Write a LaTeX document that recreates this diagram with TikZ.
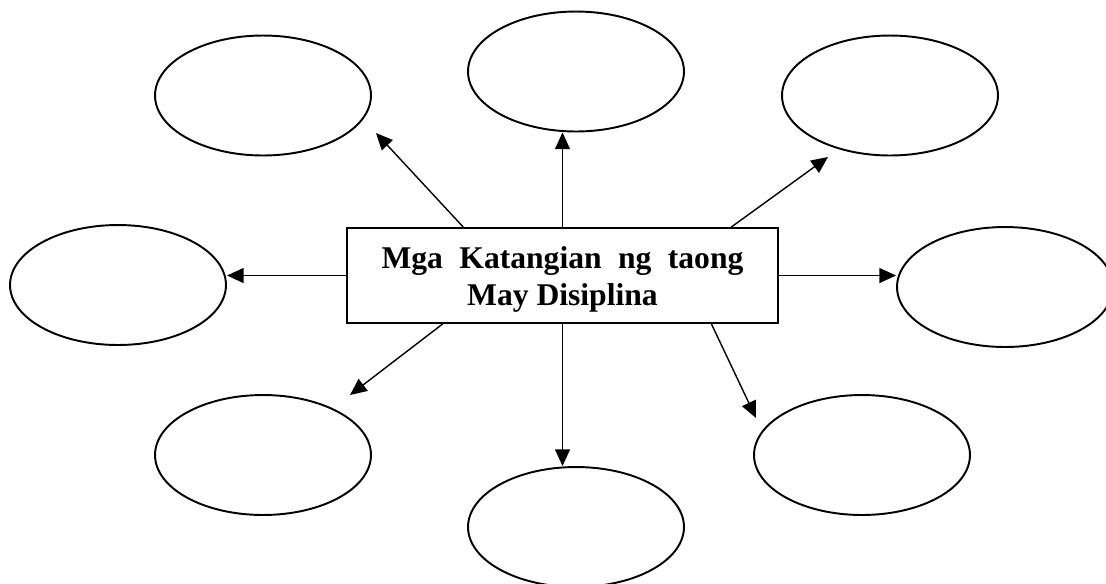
\documentclass[tikz,border=0pt]{standalone}
\usepackage{fontspec}
\setmainfont{Liberation Serif}
\usetikzlibrary{shapes.geometric}
\usetikzlibrary{arrows.meta}

\begin{document}
\begin{tikzpicture}[x=0.02cm,y=-0.02cm,
  bubble/.style={draw,ellipse,line width=1.1pt,inner sep=0pt,minimum width=4.32cm,minimum height=2.4cm},
  mainbox/.style={draw,rectangle,line width=1pt,inner sep=0pt,minimum width=8.62cm,minimum height=1.9cm},
  arr/.style={line width=0.8pt,-{Triangle[length=9.5pt,width=8.5pt]}}]
 \useasboundingbox (0,0) rectangle (1106,583);
 \node[mainbox] (box) at (562.5,275.5) {};
 \node[align=center,inner sep=0pt,font=\bfseries\fontsize{18}{21.5}\selectfont] (title) at (562.5,279.5)
   {\makebox[7.24cm][s]{Mga Katangian ng taong}\\May Disiplina};
 \node[bubble] (e1) at (263,95.5) {};
 \node[bubble] (e2) at (576,71.5) {};
 \node[bubble] (e3) at (890,95.5) {};
 \node[bubble] (e4) at (118,285) {};
 \node[bubble] (e5) at (1005,287) {};
 \node[bubble] (e6) at (263,455) {};
 \node[bubble] (e7) at (576,527) {};
 \node[bubble] (e8) at (862,455) {};
 \coordinate (h1) at (376,133);
 \coordinate (h3) at (828,157);
 \coordinate (h6) at (350,395);
 \coordinate (h8) at (756,418);
 \draw[arr] (box.154) -- (h1);
 \draw[arr] (box.north) -- (box.north |- e2.south);
 \draw[arr] (box.16) -- (h3);
 \draw[arr] (box.west) -- (box.west -| e4.east);
 \draw[arr] (box.east) -- (box.east -| e5.west);
 \draw[arr] (box.202) -- (h6);
 \draw[arr] (box.south) -- (box.south |- e7.north);
 \draw[arr] (box.342) -- (h8);
\end{tikzpicture}
\end{document}
